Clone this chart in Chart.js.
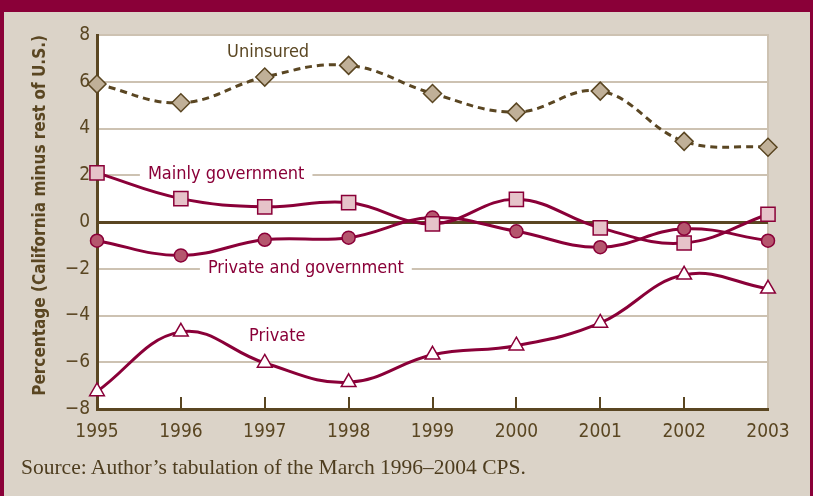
<!DOCTYPE html>
<html>
<head>
<meta charset="utf-8">
<script src="https://cdn.jsdelivr.net/npm/chart.js@4.4.1/dist/chart.umd.min.js"></script>
<style>
  html, body { margin: 0; padding: 0; }
  #frame {
    position: relative;
    width: 813px;
    height: 496px;
    background: #dbd3c8;
    overflow: hidden;
  }
  #topBand { position: absolute; left: 0; top: 0; width: 813px; height: 12px; background: #8a0038; }
  #leftBar { position: absolute; left: 0; top: 0; width: 4px; height: 496px; background: #8a0038; }
  #rightBar { position: absolute; left: 810px; top: 0; width: 3px; height: 496px; background: #8a0038; }
  #chart { position: absolute; left: 0; top: 0; }
  #source {
    position: absolute;
    left: 21px;
    top: 455px;
    font-family: "Liberation Serif", "DejaVu Serif", serif;
    font-size: 21.5px;
    color: #4e3d1f;
    white-space: nowrap;
  }
</style>
</head>
<body>
<div id="frame">
  <canvas id="chart" width="813" height="496"></canvas>
  <div id="topBand"></div>
  <div id="leftBar"></div>
  <div id="rightBar"></div>
  <div id="source">Source: Author’s tabulation of the March 1996–2004 CPS.</div>
</div>

<script>
const years = ["1995", "1996", "1997", "1998", "1999", "2000", "2001", "2002", "2003"];

const uninsured = [5.9, 5.1, 6.2, 6.7, 5.5, 4.7, 5.6, 3.45, 3.2];
const mainlyGovernment = [2.1, 1.0, 0.65, 0.83, -0.08, 0.97, -0.25, -0.9, 0.33];
const privateAndGovernment = [-0.8, -1.43, -0.76, -0.67, 0.19, -0.4, -1.08, -0.29, -0.8];
const privateOnly = [-7.25, -4.7, -6.03, -6.86, -5.68, -5.29, -4.32, -2.26, -2.86];

const yMin = -8;
const yMax = 8;
const yStep = 2;

const maroon = "#8a0038";
const brown = "#5a4622";
const lightGrid = "#cdc2b2";
const narrow = "'Liberation Sans Narrow', 'DejaVu Sans Condensed', 'Roboto', sans-serif";

// series name labels placed on the plot (category index, value)
const seriesLabels = [
  { text: "Uninsured", x: 2.04, y: 7.27, color: brown, box: false },
  { text: "Mainly government", x: 1.54, y: 2.05, color: maroon, box: true },
  { text: "Private and government", x: 2.49, y: -2.0, color: maroon, box: true },
  { text: "Private", x: 2.15, y: -4.9, color: maroon, box: false },
];

const plotBackground = {
  id: "plotBackground",
  beforeDraw(chart) {
    const { ctx, chartArea: a } = chart;
    ctx.save();
    ctx.fillStyle = "#ffffff";
    ctx.fillRect(a.left, a.top - 1, a.right - a.left, a.bottom - a.top + 1);
    ctx.strokeStyle = lightGrid;
    ctx.lineWidth = 2;
    ctx.beginPath();
    ctx.moveTo(a.right, a.top - 1);
    ctx.lineTo(a.right, a.bottom);
    ctx.stroke();
    ctx.restore();
  },
};

const seriesNames = {
  id: "seriesNames",
  beforeDatasetsDraw(chart) {
    const { ctx, scales } = chart;
    ctx.save();
    ctx.font = "18px " + narrow;
    ctx.textAlign = "center";
    ctx.textBaseline = "middle";
    seriesLabels.forEach((l) => {
      const px = scales.x.getPixelForValue(l.x);
      const py = scales.y.getPixelForValue(l.y);
      const w = ctx.measureText(l.text).width;
      if (l.box) {
        ctx.fillStyle = "#ffffff";
        ctx.fillRect(px - w / 2 - 8, py - 4, w + 16, 8);
      }
      ctx.fillStyle = l.color;
      ctx.fillText(l.text, px, py);
    });
    ctx.restore();
  },
};

const innerTicks = {
  id: "innerTicks",
  afterDraw(chart) {
    const { ctx, scales, chartArea: a } = chart;
    ctx.save();
    ctx.strokeStyle = brown;
    ctx.lineWidth = 2;
    for (let i = 1; i < years.length - 1; i++) {
      const px = Math.round(scales.x.getPixelForValue(i));
      ctx.beginPath();
      ctx.moveTo(px, a.bottom - 12);
      ctx.lineTo(px, a.bottom);
      ctx.stroke();
    }
    ctx.restore();
  },
};

new Chart(document.getElementById("chart"), {
  type: "line",

  data: {
    labels: years,

    datasets: [
      {
        label: "Uninsured",
        data: uninsured,
        borderColor: brown,
        borderWidth: 3,
        borderDash: [7, 5],
        pointStyle: "rectRot",
        pointRadius: 9,
        pointBackgroundColor: "#c0b098",
        pointBorderColor: brown,
        pointBorderWidth: 1.5,
        tension: 0.4,
      },
      {
        label: "Mainly government",
        data: mainlyGovernment,
        borderColor: maroon,
        borderWidth: 3,
        pointStyle: "rect",
        pointRadius: 10,
        pointBackgroundColor: "#e6c3c9",
        pointBorderColor: maroon,
        pointBorderWidth: 1.5,
        tension: 0.4,
      },
      {
        label: "Private and government",
        data: privateAndGovernment,
        borderColor: maroon,
        borderWidth: 3,
        pointStyle: "circle",
        pointRadius: 6.5,
        pointBackgroundColor: "#b5566e",
        pointBorderColor: maroon,
        pointBorderWidth: 1.5,
        tension: 0.4,
      },
      {
        label: "Private",
        data: privateOnly,
        borderColor: maroon,
        borderWidth: 3,
        pointStyle: "triangle",
        pointRadius: 8.5,
        pointBackgroundColor: "#ffffff",
        pointBorderColor: maroon,
        pointBorderWidth: 1.5,
        tension: 0.4,
      },
    ],
  },

  options: {
    responsive: false,
    animation: false,
    devicePixelRatio: 1,

    layout: {
      padding: { left: 0, right: 45, top: 35, bottom: 0 },
    },

    plugins: {
      legend: { display: false },
      tooltip: { enabled: false },
    },

    scales: {
      x: {
        type: "category",
        offset: false,
        afterFit: (s) => { s.height = 87; },
        grid: { display: false, drawTicks: false },
        border: { display: true, color: brown, width: 3 },
        ticks: {
          color: brown,
          padding: 12,
          maxRotation: 0,
          font: { family: narrow, size: 19 },
        },
      },
      y: {
        min: yMin,
        max: yMax,
        afterFit: (s) => { s.width = 97; },
        grid: {
          drawTicks: false,
          color: (c) => (c.tick && c.tick.value === 0 ? brown : lightGrid),
          lineWidth: (c) => (c.tick && c.tick.value === 0 ? 3 : 2),
        },
        border: { display: true, color: brown, width: 3 },
        ticks: {
          stepSize: yStep,
          color: brown,
          padding: 7,
          font: { family: narrow, size: 19 },
          callback: (v) => (v < 0 ? "\u2212" + Math.abs(v) : String(v)),
        },
        title: {
          display: true,
          text: "Percentage (California minus rest of U.S.)",
          align: "end",
          color: brown,
          padding: { top: 30, bottom: 0 },
          font: { family: narrow, size: 17, weight: "bold" },
        },
      },
    },
  },

  plugins: [plotBackground, seriesNames, innerTicks],
});
</script>
</body>
</html>
